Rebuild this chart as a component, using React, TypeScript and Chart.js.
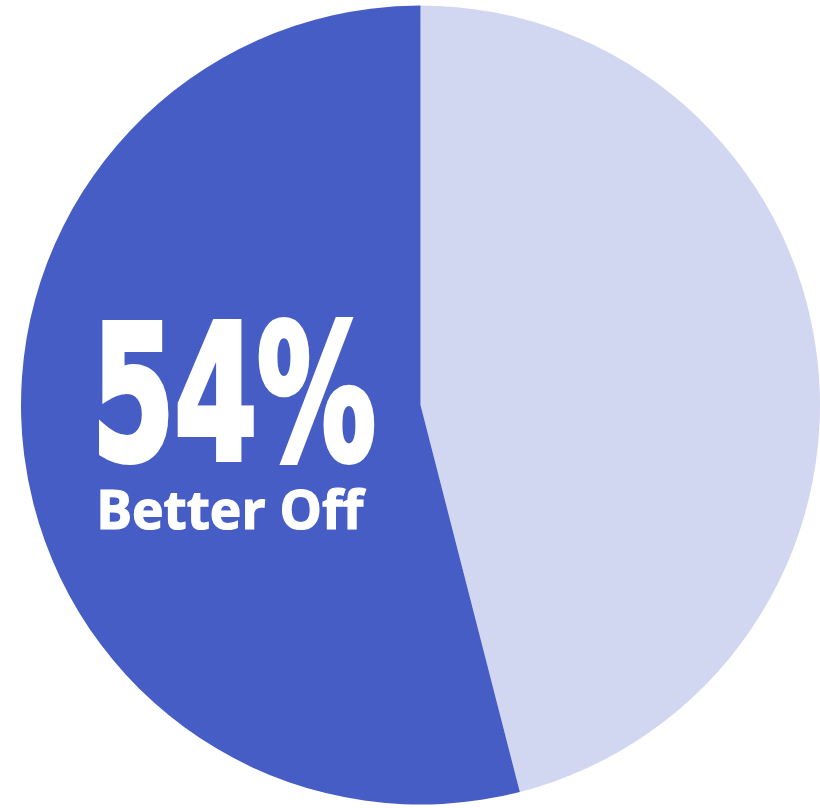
import React, { useEffect, useRef } from "react";
import { Chart, registerables } from "chart.js";

Chart.register(...registerables);

const labels = ["Worse Off / Other", "Better Off"];
const values = [46, 54];
const colors = ["#D2D7F1", "#475DC6"];
const headline = "54%";
const subline = "Better Off";

function drawFit(
  ctx: CanvasRenderingContext2D,
  text: string,
  font: string,
  left: number,
  top: number,
  right: number,
  bottom: number,
  thick: number
) {
  const inset = thick / 2;
  left += inset;
  top += inset;
  right -= inset;
  bottom -= inset;
  ctx.save();
  ctx.font = font;
  ctx.textAlign = "left";
  ctx.textBaseline = "alphabetic";
  const m = ctx.measureText(text);
  const w = m.actualBoundingBoxLeft + m.actualBoundingBoxRight;
  const h = m.actualBoundingBoxAscent + m.actualBoundingBoxDescent;
  const sx = (right - left) / w;
  const sy = (bottom - top) / h;
  ctx.translate(left, top);
  ctx.scale(sx, sy);
  ctx.fillStyle = "#FFFFFF";
  ctx.fillText(text, m.actualBoundingBoxLeft, m.actualBoundingBoxAscent);
  if (thick > 0) {
    ctx.strokeStyle = "#FFFFFF";
    ctx.lineJoin = "miter";
    ctx.lineWidth = thick / Math.sqrt(sx * sy);
    ctx.strokeText(text, m.actualBoundingBoxLeft, m.actualBoundingBoxAscent);
  }
  ctx.restore();
}

const textPlugin = {
  id: "centerText",
  afterDraw(chart: any) {
    const ctx = chart.ctx as CanvasRenderingContext2D;
    drawFit(ctx, headline, "bold 200px 'Liberation Sans Narrow', 'DejaVu Sans Condensed', sans-serif", 98, 317, 375, 464, 5);
    drawFit(ctx, subline, "bold 48px 'Open Sans', 'DejaVu Sans', sans-serif", 100, 488, 367, 530, 1.2);
  },
};

export default function App() {
  const ref = useRef<HTMLCanvasElement | null>(null);
  useEffect(() => {
    if (!ref.current) return;
    const chart = new Chart(ref.current, {
      type: "pie",
      data: {
        labels,
        datasets: [
          {
            data: values,
            backgroundColor: colors,
            borderWidth: 0,
            hoverOffset: 0,
          },
        ],
      },
      options: {
        animation: false,
        responsive: false,
        maintainAspectRatio: false,
        layout: { padding: { left: 21, top: 5, right: 0, bottom: 3 } },
        plugins: {
          legend: { display: false },
          tooltip: { enabled: false },
        },
      },
      plugins: [textPlugin],
    });
    return () => chart.destroy();
  }, []);
  return (
    <canvas
      ref={ref}
      width={820}
      height={808}
      style={{ position: "absolute", left: 0, top: 0, width: 820, height: 808, display: "block" }}
    />
  );
}
